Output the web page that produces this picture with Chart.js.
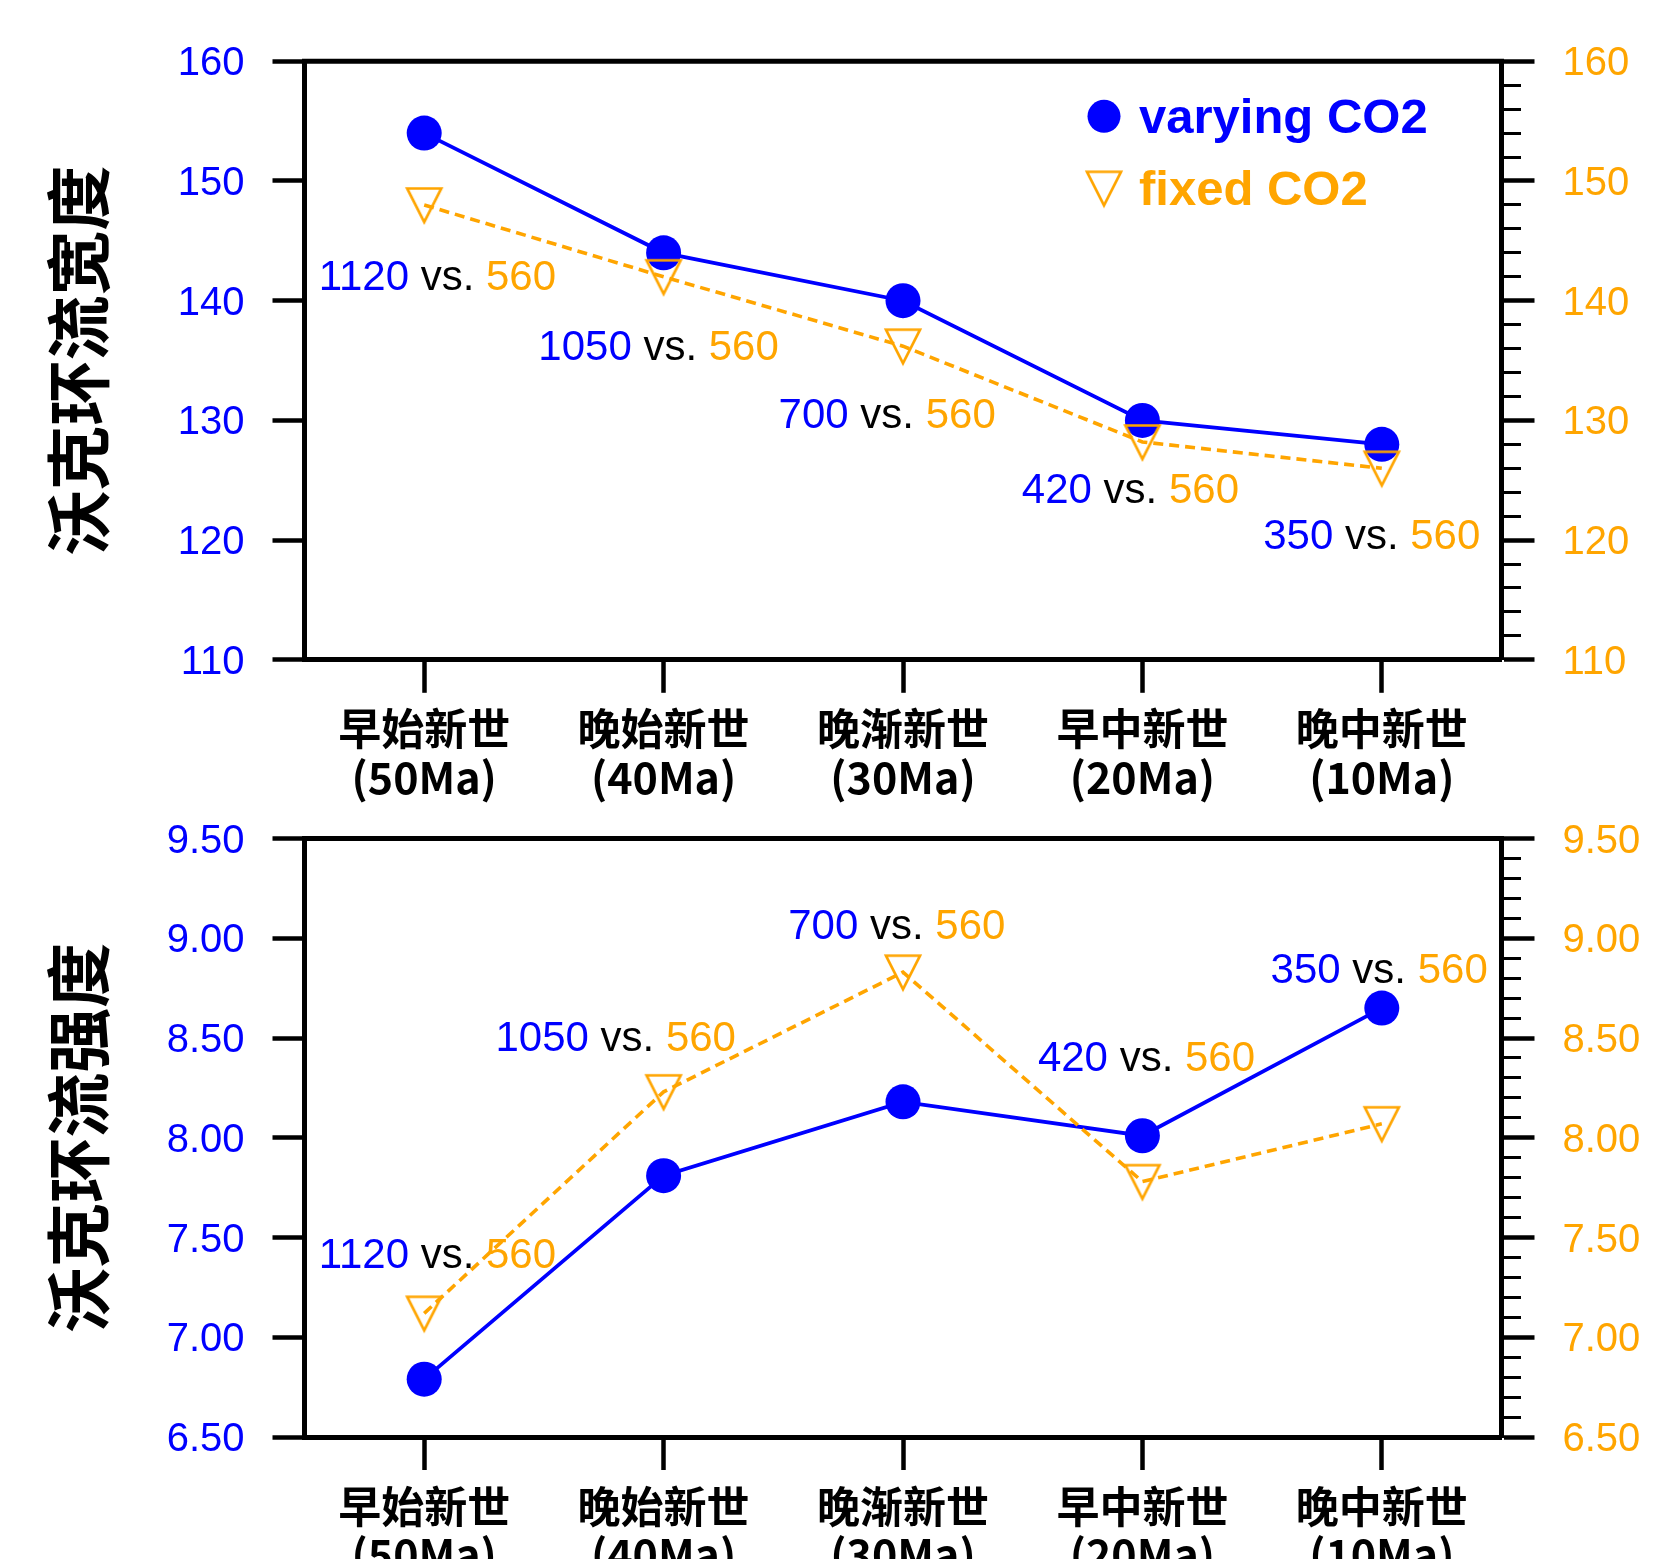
<!DOCTYPE html>
<html><head><meta charset="utf-8">
<script src="https://cdn.jsdelivr.net/npm/chart.js@4/dist/chart.umd.min.js"></script>
<style>
html,body{margin:0;padding:0;background:#fff;overflow:hidden;}
#c1{position:absolute;left:0;top:0;}
#c2{position:absolute;left:0;top:775px;}
</style></head><body>
<canvas id="c1" width="1658" height="805"></canvas>
<canvas id="c2" width="1658" height="784"></canvas>
<script>
// ---------- data ----------
const categories = [['早始新世','(50Ma)'],['晚始新世','(40Ma)'],['晚渐新世','(30Ma)'],['早中新世','(20Ma)'],['晚中新世','(10Ma)']];
const varyingCO2ppm = [1120, 1050, 700, 420, 350];
const fixedCO2ppm = 560;
const seriesNames = ['varying CO2', 'fixed CO2'];

const widthVarying = [154, 144, 140, 130, 128];
const widthFixed   = [148, 142, 136.2, 128.2, 126];
const strengthVarying = [6.79, 7.81, 8.18, 8.01, 8.65];
const strengthFixed   = [7.12, 8.23, 8.83, 7.78, 8.07];

const widthTitle = '沃克环流宽度';
const strengthTitle = '沃克环流强度';
const widthRange = [110, 160];       // min, max
const widthSteps = [10, 2];          // major, minor
const strengthRange = [6.5, 9.5];
const strengthSteps = [0.5, 0.1];
const widthDecimals = 0;
const strengthDecimals = 2;

// annotation anchors in data space: [category index, value]
const widthNoteIdx = [0.055, 0.979, 1.934, 2.950, 3.958];
const widthNoteVal = [142.1, 136.26, 130.58, 124.33, 120.5];
const strengthNoteIdx = [0.055, 0.80, 1.974, 3.017, 3.989];
const strengthNoteVal = [7.42, 8.51, 9.07, 8.41, 8.85];

// ---------- style ----------
const BLUE = '#0000ff', ORANGE = '#ffa500', BLACK = '#000000';
const NUM_FONT = '"Liberation Sans", Arial, sans-serif';
const CJK_FONT = '"Noto Sans CJK SC", "Noto Sans", sans-serif';

function makeTriangle(color) {
  const c = document.createElement('canvas');
  c.width = 42; c.height = 42;
  const g = c.getContext('2d');
  g.strokeStyle = color; g.lineWidth = 2.7; g.lineJoin = 'miter';
  g.beginPath(); g.moveTo(4, 4.5); g.lineTo(38, 4.5); g.lineTo(21, 38); g.closePath(); g.stroke();
  return c;
}

function isMajor(v, major) {
  const r = v / major;
  return Math.abs(r - Math.round(r)) < 1e-6;
}

function makeChart(canvasId, cfg) {
  const tri = makeTriangle(ORANGE);
  const framePlugin = {
    id: 'frameTop',
    afterDraw(chart) {
      const a = chart.chartArea, ctx = chart.ctx;
      ctx.save();
      ctx.strokeStyle = BLACK; ctx.lineWidth = 5;
      ctx.beginPath(); ctx.moveTo(a.left - 2.5, a.top); ctx.lineTo(a.right + 2.5, a.top); ctx.stroke();
      ctx.restore();
    }
  };
  const notesPlugin = {
    id: 'notes',
    afterDatasetsDraw(chart) {
      const ctx = chart.ctx, xs = chart.scales.x, ys = chart.scales.y;
      ctx.save();
      ctx.font = '42px ' + NUM_FONT;
      ctx.textBaseline = 'middle';
      ctx.textAlign = 'left';
      for (let i = 0; i < cfg.noteIdx.length; i++) {
        const parts = [[String(varyingCO2ppm[i]), BLUE], [' vs. ', BLACK], [String(fixedCO2ppm), ORANGE]];
        const total = parts.reduce((s, p) => s + ctx.measureText(p[0]).width, 0);
        let x = xs.getPixelForValue(cfg.noteIdx[i]) - total / 2;
        const y = ys.getPixelForValue(cfg.noteVal[i]) + 3;
        for (const [t, col] of parts) {
          ctx.fillStyle = col; ctx.fillText(t, x, y);
          x += ctx.measureText(t).width;
        }
      }
      ctx.restore();
    }
  };
  const legendPlugin = {
    id: 'customLegend',
    afterDraw(chart) {
      if (!cfg.legend) return;
      const a = chart.chartArea, ctx = chart.ctx;
      const mx = a.right - 397.5;
      const y1 = a.top + 55, y2 = a.top + 127;
      ctx.save();
      ctx.fillStyle = BLUE;
      ctx.beginPath(); ctx.arc(mx, y1, 16.5, 0, Math.PI * 2); ctx.fill();
      ctx.drawImage(tri, mx - tri.width / 2, y2 - tri.height / 2);
      ctx.font = 'bold 49px ' + NUM_FONT;
      ctx.textBaseline = 'middle'; ctx.textAlign = 'left';
      ctx.fillStyle = BLUE; ctx.fillText(seriesNames[0], mx + 35, y1 + 3);
      ctx.fillStyle = ORANGE; ctx.fillText(seriesNames[1], mx + 35, y2 + 3);
      ctx.restore();
    }
  };
  const fmt = v => Number(v).toFixed(cfg.decimals);
  return new Chart(document.getElementById(canvasId), {
    type: 'line',
    data: {
      labels: categories,
      datasets: [
        { label: seriesNames[0], data: cfg.varying, yAxisID: 'y', order: 1,
          borderColor: BLUE, borderWidth: 3.8, tension: 0,
          pointStyle: 'circle', pointRadius: 17.5, pointBackgroundColor: BLUE, pointBorderWidth: 0, pointBorderColor: BLUE },
        { label: seriesNames[1], data: cfg.fixed, yAxisID: 'y', order: 0,
          borderColor: ORANGE, borderWidth: 3.6, borderDash: [10, 6], tension: 0,
          pointStyle: tri, pointRadius: 17, pointBorderWidth: 0 }
      ]
    },
    options: {
      responsive: false, animation: false, devicePixelRatio: 1, events: [],
      layout: { padding: { top: cfg.padTop, bottom: 0, left: 0, right: 0 } },
      plugins: { legend: { display: false }, tooltip: { enabled: false } },
      scales: {
        x: {
          type: 'category', offset: true,
          grid: { offset: false, drawOnChartArea: false, drawTicks: true, tickLength: 33, tickWidth: 4.5, tickColor: BLACK },
          border: { display: true, width: 5, color: BLACK },
          ticks: { color: BLACK, font: { family: CJK_FONT, weight: 'bold', size: 43, lineHeight: 1.13 }, padding: 12, maxRotation: 0, minRotation: 0, autoSkip: false },
          afterFit: s => { s.height = cfg.xHeight; }
        },
        y: {
          type: 'linear', position: 'left', min: cfg.range[0], max: cfg.range[1],
          ticks: { stepSize: cfg.steps[0], autoSkip: false, color: BLUE, font: { family: NUM_FONT, size: 40 }, padding: 28, labelOffset: 3, callback: v => fmt(v) },
          grid: { drawOnChartArea: false, drawTicks: true, tickLength: 32, tickWidth: 4.5, tickColor: BLACK },
          border: { display: true, width: 5, color: BLACK },
          title: { display: true, text: cfg.title, color: BLACK, font: { family: CJK_FONT, weight: 'bold', size: 65, lineHeight: 1 }, padding: { top: 46, bottom: 0 } },
          afterFit: s => { s.width = 304.5; }
        },
        y2: {
          type: 'linear', position: 'right', min: cfg.range[0], max: cfg.range[1],
          ticks: { stepSize: cfg.steps[1], autoSkip: false, color: ORANGE, font: { family: NUM_FONT, size: 40 }, padding: 28, labelOffset: 3,
                   callback: v => isMajor(v, cfg.steps[0]) ? fmt(v) : '' },
          grid: { drawOnChartArea: false, drawTicks: true, tickLength: 33, tickColor: BLACK,
                  tickWidth: c => isMajor(c.tick.value, cfg.steps[0]) ? 4.5 : 3,
                  tickBorderDash: c => isMajor(c.tick.value, cfg.steps[0]) ? [] : [17, 60] },
          border: { display: true, width: 5, color: BLACK },
          afterFit: s => { s.width = 156.5; }
        }
      }
    },
    plugins: [framePlugin, notesPlugin, legendPlugin]
  });
}

function drawAll() {
  makeChart('c1', { varying: widthVarying, fixed: widthFixed, range: widthRange, steps: widthSteps,
    decimals: widthDecimals, title: widthTitle, noteIdx: widthNoteIdx, noteVal: widthNoteVal,
    legend: true, padTop: 61.3, xHeight: 145.2 });
  makeChart('c2', { varying: strengthVarying, fixed: strengthFixed, range: strengthRange, steps: strengthSteps,
    decimals: strengthDecimals, title: strengthTitle, noteIdx: strengthNoteIdx, noteVal: strengthNoteVal,
    legend: false, padTop: 63.5, xHeight: 122 });
}

const fontsToLoad = ['40px "Liberation Sans"', 'bold 49px "Liberation Sans"', 'bold 41px "Noto Sans CJK SC"'];
Promise.all(fontsToLoad.map(f => document.fonts.load(f, '早始新世沃克环流宽强度0123'))).catch(() => {}).then(drawAll);
</script>
</body></html>
